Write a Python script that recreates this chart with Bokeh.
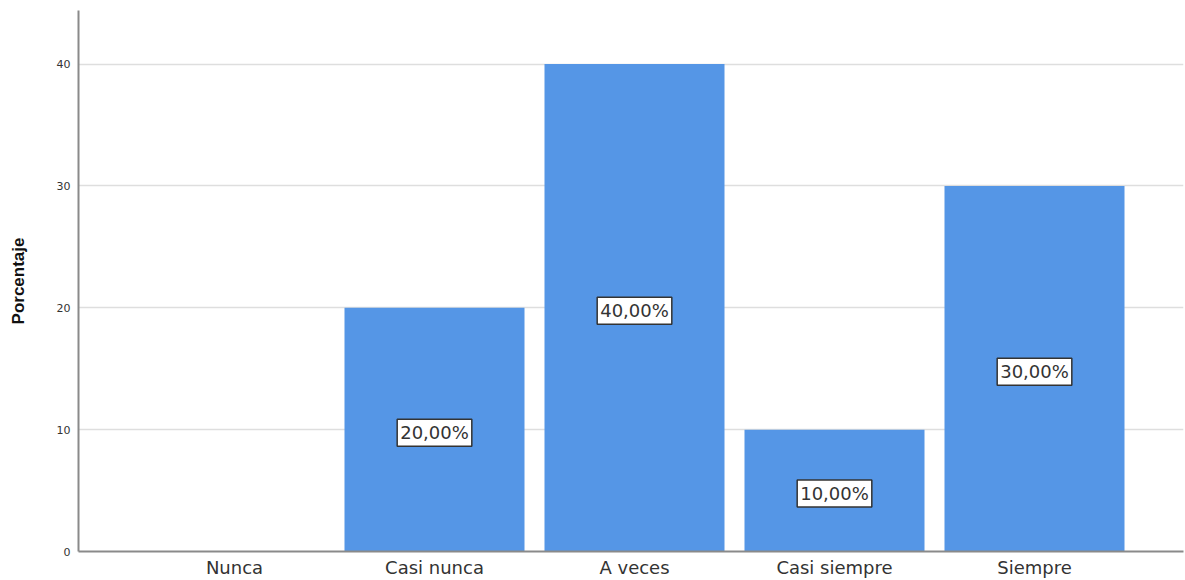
from bokeh.plotting import figure
from bokeh.models import FixedTicker, Label, Range1d
from bokeh.embed import file_html
from bokeh.resources import INLINE

categories = ["Nunca", "Casi nunca", "A veces", "Casi siempre", "Siempre"]
values = [0, 20, 40, 10, 30]
label_texts = ["0,00%", "20,00%", "40,00%", "10,00%", "30,00%"]
y_ticks = [0, 10, 20, 30, 40]

xs = list(range(len(categories)))

p = figure(width=1185, height=580, output_backend="svg", toolbar_location=None,
           x_range=Range1d(-0.78, 4.745), y_range=Range1d(0, 44.4),
           min_border_left=78, min_border_right=2, min_border_top=10, min_border_bottom=29)
p.outline_line_color = None
p.background_fill_color = "white"

p.vbar(x=xs, top=values, width=0.9, bottom=0, fill_color="#5596E6", line_color=None)

for x, v, t in zip(xs, values, label_texts):
    if v > 0:
        p.add_layout(Label(x=x, y=v / 2, y_offset=-3, text=t, text_align="center", text_baseline="middle",
                           text_font="DejaVu Sans", text_font_size="18px", text_color="#333333",
                           background_fill_color="white", border_line_color="#333333",
                           border_line_width=1.5, padding=3))

p.xaxis.ticker = FixedTicker(ticks=xs)
p.xaxis.major_label_overrides = {i: c for i, c in zip(xs, categories)}
p.xaxis.major_tick_out = 0
p.xaxis.major_tick_in = 0
p.xaxis.minor_tick_out = 0
p.xaxis.minor_tick_in = 0
p.xaxis.major_label_standoff = 5
p.xaxis.major_label_text_font = "DejaVu Sans"
p.xaxis.major_label_text_font_size = "18px"
p.xaxis.major_label_text_color = "#333333"
p.xaxis.axis_line_color = "#8a8a8a"
p.xaxis.axis_line_width = 2
p.xgrid.grid_line_color = None

p.yaxis.ticker = FixedTicker(ticks=y_ticks)
p.yaxis.major_tick_out = 0
p.yaxis.major_tick_in = 0
p.yaxis.minor_tick_out = 0
p.yaxis.minor_tick_in = 0
p.yaxis.major_label_standoff = 8
p.yaxis.major_label_text_font = "DejaVu Sans"
p.yaxis.major_label_text_font_size = "11px"
p.yaxis.major_label_text_color = "#333333"
p.yaxis.axis_line_color = "#8a8a8a"
p.yaxis.axis_line_width = 2
p.yaxis.axis_label = "Porcentaje"
p.yaxis.axis_label_text_font = "Liberation Sans"
p.yaxis.axis_label_text_font_style = "bold"
p.yaxis.axis_label_text_font_size = "17px"
p.yaxis.axis_label_text_color = "#111111"
p.yaxis.axis_label_standoff = 26
p.ygrid.ticker = FixedTicker(ticks=y_ticks)
p.ygrid.grid_line_color = "#dedede"
p.ygrid.grid_line_width = 1.5

open("out.html", "w").write(file_html(p, INLINE))
